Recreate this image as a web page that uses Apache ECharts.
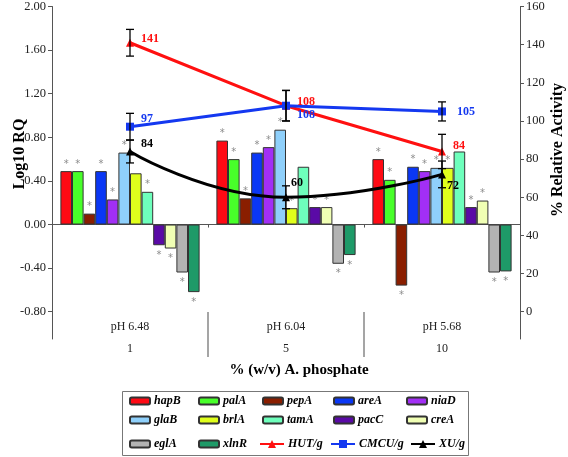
<!DOCTYPE html>
<html><head><meta charset="utf-8">
<script src="https://cdn.jsdelivr.net/npm/echarts@6/dist/echarts.min.js"></script>
<style>html,body{margin:0;padding:0;background:#fff}#c{width:568px;height:457px}</style>
</head><body><div id="c"></div>
<script>
// ---------- data ----------
const categories = ['1', '5', '10'];
const phLabels = ['pH 6.48', 'pH 6.04', 'pH 5.68'];
const genes = ['hapB','palA','pepA','areA','niaD','glaB','brlA','tamA','pacC','creA','eglA','xlnR'];
const hapB = [0.49, 0.77, 0.60];
const palA = [0.49, 0.60, 0.41];
const pepA = [0.10, 0.24, -0.56];
const areA = [0.49, 0.66, 0.53];
const niaD = [0.23, 0.71, 0.49];
const glaB = [0.66, 0.87, 0.52];
const brlA = [0.47, 0.15, 0.52];
const tamA = [0.30, 0.53, 0.67];
const pacC = [-0.19, 0.16, 0.16];
const creA = [-0.22, 0.16, 0.22];
const eglA = [-0.44, -0.36, -0.44];
const xlnR = [-0.62, -0.28, -0.43];
// significance asterisks (1 = shown)
const starHapB = [1,1,1], starPalA = [1,1,1], starPepA = [1,1,1], starAreA = [1,1,1];
const starNiaD = [1,1,1], starGlaB = [1,1,1], starBrlA = [0,1,1], starTamA = [1,0,0];
const starPacC = [1,1,1], starCreA = [1,1,1], starEglA = [1,1,1], starXlnR = [1,1,1];
// enzyme activities (% relative activity)
const hut = [141, 108, 84];
const cmcu = [97, 108, 105];
const xu = [84, 60, 72];
const hutErr = [7, 8, 9];
const cmcuErr = [7, 8, 5];
const xuErr = [6, 6, 7];
const leftTicks = [-0.8, -0.4, 0, 0.4, 0.8, 1.2, 1.6, 2.0];
const rightTicks = [0, 20, 40, 60, 80, 100, 120, 140, 160];

// ---------- styles ----------
const geneValues = [hapB,palA,pepA,areA,niaD,glaB,brlA,tamA,pacC,creA,eglA,xlnR];
const geneStars = [starHapB,starPalA,starPepA,starAreA,starNiaD,starGlaB,starBrlA,starTamA,starPacC,starCreA,starEglA,starXlnR];
const geneColors = ['#ff0a14','#48ff2a','#8a1e00','#0a37f5','#a22ff5','#8fd0fb','#e0ff1c','#6effbc','#5a0aa6','#f0ffb4','#b3b3b3','#1e9a68'];
const serif = '"Liberation Serif", "Times New Roman", serif';
const LMIN = -1.05, LMAX = 2.0;
const RMAX = 160, RMIN = RMAX - RMAX * (LMAX - LMIN) / 2.8;

const series = [];
genes.forEach((g, i) => {
  series.push({
    name: g, type: 'bar', xAxisIndex: 0, yAxisIndex: 0,
    barWidth: 11.6, barGap: '0%',
    itemStyle: { color: geneColors[i], borderColor: '#333', borderWidth: 1 },
    data: geneValues[i].map((v, k) => ({
      value: v,
      label: {
        show: !!geneStars[i][k], formatter: '*', position: v >= 0 ? 'top' : 'bottom',
        distance: v >= 0 ? 2 : 5, color: '#8c8c8c', fontSize: 10, fontFamily: 'DejaVu Sans'
      }
    }))
  });
});

const lineDefs = [
  { name: 'HUT/g', data: hut, err: hutErr, color: '#ff1010', symbol: 'triangle',
    lab: [{off:[2,-4]}, {off:[2,-4]}, {off:[2,-6]}] },
  { name: 'CMCU/g', data: cmcu, err: cmcuErr, color: '#1438f0', symbol: 'rect',
    lab: [{off:[2,-8]}, {off:[2,9]}, {off:[6,0]}] },
  { name: 'XU/g', data: xu, err: xuErr, color: '#000', symbol: 'triangle', smooth: true,
    lab: [{off:[2,-8]}, {off:[-4,-14]}, {off:[-4,12]}] }
];
lineDefs.forEach(d => {
  series.push({
    name: d.name, type: 'line', xAxisIndex: 0, yAxisIndex: 1, smooth: d.smooth ? 0.5 : false,
    symbol: d.symbol, symbolSize: 8, z: 5,
    lineStyle: { color: d.color, width: 3 }, itemStyle: { color: d.color },
    data: d.data.map((v, k) => ({
      value: v,
      label: { show: true, position: 'right', distance: 5, offset: d.lab[k].off,
        color: d.color, fontWeight: 'bold', fontSize: 12, fontFamily: serif }
    }))
  });
  series.push({
    type: 'custom', xAxisIndex: 0, yAxisIndex: 1, z: 6, silent: true,
    data: d.data.map((v, k) => [k, v - d.err[k], v + d.err[k]]),
    renderItem: function (params, api) {
      const lo = api.coord([api.value(0), api.value(1)]);
      const hi = api.coord([api.value(0), api.value(2)]);
      const w = 4;
      const st = { stroke: '#000', lineWidth: 1.3 };
      return { type: 'group', children: [
        { type: 'line', shape: { x1: lo[0], y1: lo[1], x2: hi[0], y2: hi[1] }, style: st },
        { type: 'line', shape: { x1: lo[0]-w, y1: lo[1], x2: lo[0]+w, y2: lo[1] }, style: st },
        { type: 'line', shape: { x1: hi[0]-w, y1: hi[1], x2: hi[0]+w, y2: hi[1] }, style: st }
      ]};
    }
  });
});

// legend layout: one legend per entry
const legendNames = genes.concat(['HUT/g', 'CMCU/g', 'XU/g']);
const colX = [129, 198, 262, 333, 406];
const lineShift = [-3, -3, 4];
const rowY = [402, 421, 445];
const legends = legendNames.map((n, i) => {
  const isLine = i >= 12;
  return {
    data: [n], left: colX[i % 5] + (isLine ? lineShift[i - 12] : 0), top: rowY[Math.floor(i / 5)] - 7,
    padding: 0, itemWidth: isLine ? 24 : 20, itemHeight: isLine ? 10 : 7, itemGap: 0,
    textStyle: { fontFamily: serif, fontStyle: 'italic', fontWeight: 'bold', fontSize: 12, color: '#000', padding: [0,0,0,-1] },
    selectedMode: false
  };
});

// group divider positions and label positions on the helper axis
const dividerValues = [1, 2];
const labelValues = [0.5, 1.5, 2.5];

const chart = echarts.init(document.getElementById('c'), null, { renderer: 'canvas' });
chart.setOption({
  animation: false,
  backgroundColor: '#fff',
  grid: { left: 52, right: 48, top: 6, height: 333 },
  legend: legends,
  xAxis: [
    { type: 'category', data: categories, boundaryGap: true,
      axisLine: { show: true, onZero: true, onZeroAxisIndex: 0, lineStyle: { color: '#555', width: 1 } },
      axisTick: { show: true, length: 3, lineStyle: { color: '#555' } },
      axisLabel: { show: false }, splitLine: { show: false } },
    { type: 'value', min: 0, max: categories.length, position: 'bottom', offset: -27,
      axisLine: { show: false, onZero: false },
      axisTick: { show: true, length: 45, customValues: dividerValues, lineStyle: { color: '#888', width: 1.5 } },
      axisLabel: { show: true, customValues: labelValues, margin: 4, lineHeight: 22, fontFamily: serif, fontSize: 12, color: '#222',
        formatter: function (v) { const i = Math.floor(v); return phLabels[i] + '\n' + categories[i]; } },
      splitLine: { show: false } }
  ],
  yAxis: [
    { type: 'value', position: 'left', min: LMIN, max: LMAX,
      axisLine: { show: true, onZero: false, lineStyle: { color: '#555' } },
      axisTick: { show: true, length: 4, customValues: leftTicks, lineStyle: { color: '#555' } },
      axisLabel: { customValues: leftTicks, formatter: v => v.toFixed(2), fontFamily: serif, fontSize: 12.5, color: '#222', margin: 6 },
      splitLine: { show: false } },
    { type: 'value', position: 'right', min: RMIN, max: RMAX,
      axisLine: { show: true, onZero: false, lineStyle: { color: '#555' } },
      axisTick: { show: true, length: 4, customValues: rightTicks, lineStyle: { color: '#555' } },
      axisLabel: { customValues: rightTicks, fontFamily: serif, fontSize: 12.5, color: '#222', margin: 6 },
      splitLine: { show: false } }
  ],
  graphic: [
    { type: 'text', x: 20, y: 154, rotation: Math.PI / 2,
      style: { text: 'Log10 RQ', font: 'bold 16px ' + serif, fill: '#000', align: 'center', verticalAlign: 'middle' } },
    { type: 'text', x: 558, y: 150, rotation: Math.PI / 2,
      style: { text: '% Relative Activity', font: 'bold 16px ' + serif, fill: '#000', align: 'center', verticalAlign: 'middle' } },
    { type: 'text', x: 299, y: 370,
      style: { text: '% (w/v) A. phosphate', font: 'bold 15px ' + serif, fill: '#000', align: 'center', verticalAlign: 'middle' } },
    { type: 'rect', shape: { x: 122.5, y: 391.5, width: 346, height: 64 },
      style: { fill: 'none', stroke: '#777', lineWidth: 1 }, z: -1 }
  ],
  series: series
});
</script></body></html>
